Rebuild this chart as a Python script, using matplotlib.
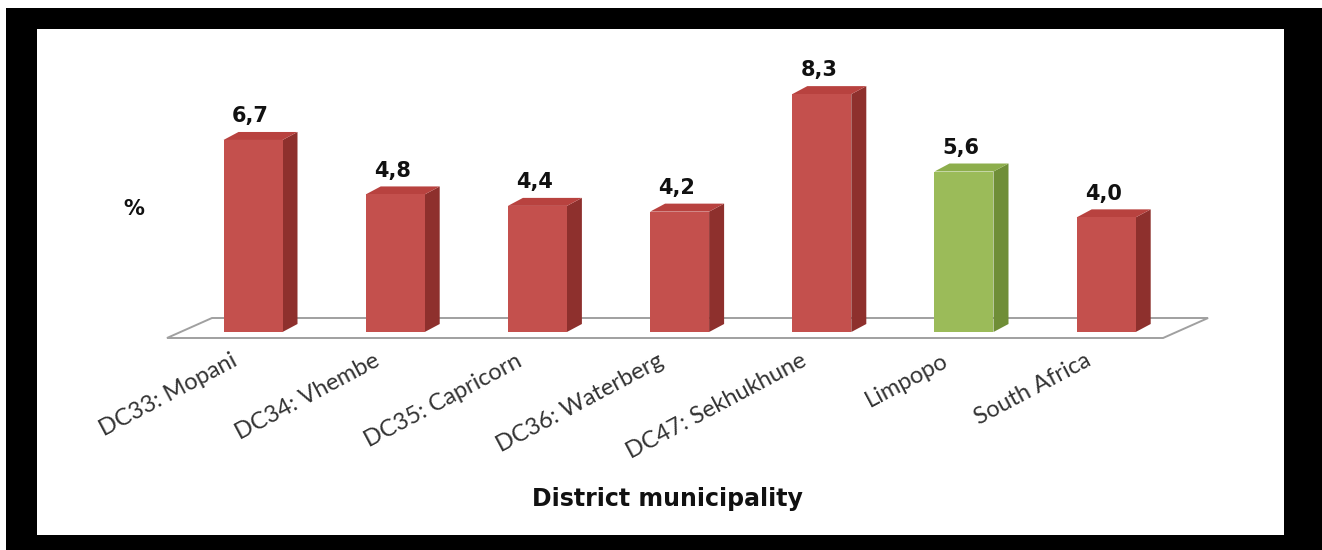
import matplotlib
matplotlib.use("Agg")
import matplotlib.pyplot as plt
from matplotlib.patches import Polygon, Rectangle

# ---- data ----
categories = ["DC33: Mopani", "DC34: Vhembe", "DC35: Capricorn", "DC36: Waterberg",
              "DC47: Sekhukhune", "Limpopo", "South Africa"]
values = [6.7, 4.8, 4.4, 4.2, 8.3, 5.6, 4.0]
value_labels = ["6,7", "4,8", "4,4", "4,2", "8,3", "5,6", "4,0"]
highlight = [False, False, False, False, False, True, False]
y_label = "%"
x_label = "District municipality"

# ---- styles ----
RED = dict(front="#C4504D", side="#8E302D", top="#B8423F")
GREEN = dict(front="#9BBB59", side="#6F8E37", top="#8DAE4C")

W, H = 1322, 550
fig = plt.figure(figsize=(W / 100, H / 100), dpi=100, facecolor="white")

# black frame and white panel (pixel layout)
fig.patches.append(Rectangle((6 / W, 0), 1 - 6 / W, (H - 8) / H, transform=fig.transFigure,
                             facecolor="black", edgecolor="none", zorder=-10))
fig.patches.append(Rectangle((37 / W, (H - 535) / H), (1284 - 37) / W, (535 - 29) / H,
                             transform=fig.transFigure, facecolor="white",
                             edgecolor="none", zorder=-9))

ax = fig.add_axes([0, 0, 1, 1])
ax.set_zorder(5)
ax.set_facecolor("none")
ax.axis("off")

# pixel -> data scales
x0_px, x_step = 253.0, 142.2
y0_px, y_unit = 332.0, 28.66
ax.set_xlim(-x0_px / x_step, (W - x0_px) / x_step)
ax.set_ylim(-(H - y0_px) / y_unit, y0_px / y_unit)

bw = 59 / x_step
ddx = 15 / x_step
ddy = 8 / y_unit

# floor
n = len(categories)
fl, fr = -0.605, n - 1 + 0.40
fy = -6 / y_unit
fdx, fdy = 45 / x_step, 20 / y_unit
floor = Polygon([(fl, fy), (fr, fy), (fr + fdx, fy + fdy), (fl + fdx, fy + fdy)],
                closed=True, facecolor="white", edgecolor="#A0A0A0", lw=1.4, zorder=1)
ax.add_patch(floor)

for i, (v, lab, hl) in enumerate(zip(values, value_labels, highlight)):
    c = GREEN if hl else RED
    xl, xr = i - bw / 2, i + bw / 2
    # side face
    ax.add_patch(Polygon([(xr, 0), (xr + ddx, ddy), (xr + ddx, v + ddy), (xr, v)],
                         closed=True, facecolor=c["side"], edgecolor="none", zorder=2))
    # top face
    ax.add_patch(Polygon([(xl, v), (xr, v), (xr + ddx, v + ddy), (xl + ddx, v + ddy)],
                         closed=True, facecolor=c["top"], edgecolor="none", zorder=2))
    # front face
    ax.bar(i, v, width=bw, bottom=0, color=c["front"], edgecolor="none", zorder=3)
    ax.text(i - 3 / x_step, v + ddy + 0.2, lab, ha="center", va="bottom",
            fontsize=15, fontweight="bold", family="DejaVu Sans", color="#111111", zorder=4)
    ax.text(i - 22 / x_step, -18 / y_unit, categories[i], rotation=28,
            rotation_mode="anchor", ha="right", va="top", fontsize=17,
            family="Lato", color="#333333", zorder=4)

ax.text((134 - x0_px) / x_step, (y0_px - 209) / y_unit, y_label,
        ha="center", va="center", fontsize=15, fontweight="bold",
        family="DejaVu Sans", color="#111111")
ax.text((667 - x0_px) / x_step, (y0_px - 499) / y_unit, x_label,
        ha="center", va="center", fontsize=17, fontweight="bold",
        family="DejaVu Sans", color="#111111")

fig.savefig("out.png", dpi=100, facecolor=fig.get_facecolor())
